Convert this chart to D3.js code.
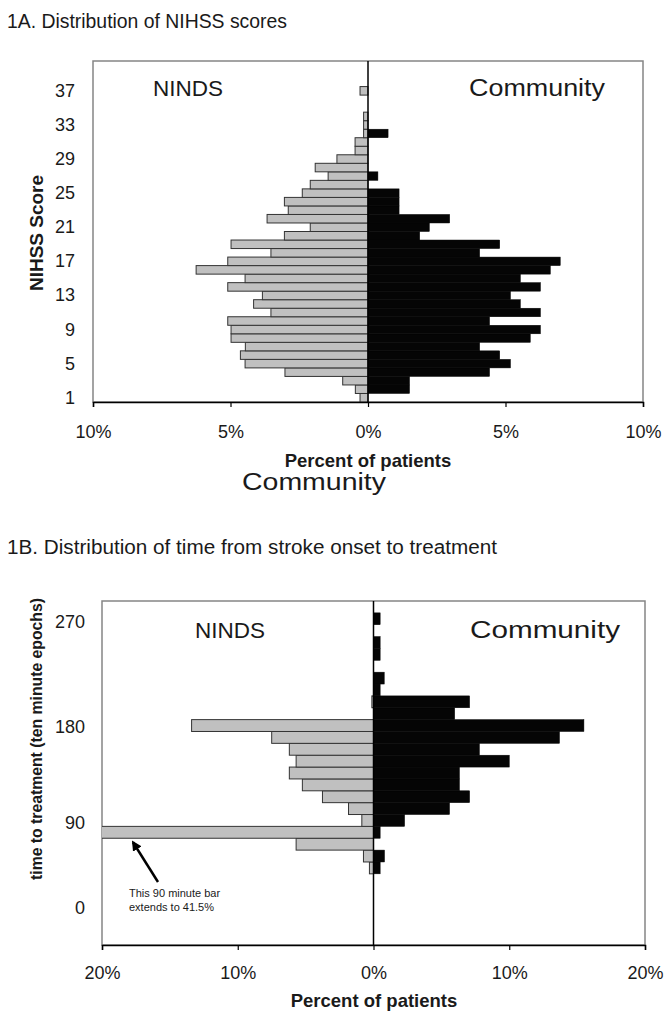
<!DOCTYPE html>
<html>
<head>
<meta charset="utf-8">
<script src="https://cdn.jsdelivr.net/npm/d3@7"></script>
<style>
  body { margin: 0; background: #fff; }
  svg { display: block; font-family: "Liberation Sans", Arial, sans-serif; }
</style>
</head>
<body>
<svg id="chart" width="669" height="1015"></svg>
<script>
// ---------- Data: 1A NIHSS ----------
const nihssScores = [1,2,3,4,5,6,7,8,9,10,11,12,13,14,15,16,17,18,19,20,21,22,23,24,25,26,27,28,29,30,31,32,33,34,35,36,37,38,39,40];
const nihssNINDS = [0.29,0.46,0.92,3.02,4.47,4.64,4.46,4.98,4.98,5.1,3.53,4.16,3.84,5.1,4.47,6.25,5.1,3.53,4.98,3.04,2.1,3.67,2.9,3.04,2.39,2.1,1.45,1.92,1.13,0.47,0.47,0.16,0.16,0.16,0,0,0.29,0,0,0];
const nihssCommunity = [0,1.51,1.51,4.42,5.18,4.79,4.06,5.9,6.27,4.42,6.27,5.54,5.18,6.27,5.54,6.63,6.99,4.06,4.79,1.88,2.23,2.97,1.13,1.13,1.13,0,0.36,0,0,0,0,0.73,0,0,0,0,0,0,0,0];
const nihssTickLabels = [1,5,9,13,17,21,25,29,33,37];
const nihssXTicks = [-10,-5,0,5,10];

// ---------- Data: 1B time to treatment (ten minute epochs) ----------
const timeMinutes = [0,10,20,30,40,50,60,70,80,90,100,110,120,130,140,150,160,170,180,190,200,210,220,230,240,250,260,270,280];
const timeNINDS = [0,0,0,0,0,0,0.3,0.74,5.7,41.5,0.86,1.84,3.76,5.24,6.2,5.7,6.2,7.5,13.4,0,0.12,0,0,0,0,0,0,0,0];
const timeCommunity = [0,0,0,0,0,0,0.49,0.81,0,0.49,2.29,5.6,7.08,6.33,6.33,10.0,7.8,13.7,15.5,5.98,7.08,0.49,0.79,0,0.49,0.49,0,0.49,0];
const timeTickLabels = [0,90,180,270];
const timeXTicks = [-20,-10,0,10,20];

const svg = d3.select("#chart");
const GRAY = "#c0c0c0";
const INK = "#1a1a1a";

function panel(cfg) {
  const g = svg.append("g");
  const x = d3.scaleLinear().domain([-cfg.xmax, cfg.xmax]).range([cfg.left, cfg.right]);
  const y = d3.scaleBand().domain(cfg.cats).range([cfg.bottom, cfg.top]).paddingInner(0).paddingOuter(0);

  const clipId = "clip" + cfg.id;
  svg.append("clipPath").attr("id", clipId).append("rect")
    .attr("x", cfg.left).attr("y", cfg.top)
    .attr("width", cfg.right - cfg.left).attr("height", cfg.bottom - cfg.top);

  g.append("rect").attr("x", cfg.left).attr("y", cfg.top)
    .attr("width", cfg.right - cfg.left).attr("height", cfg.bottom - cfg.top)
    .attr("fill", "none").attr("stroke", "#858585").attr("stroke-width", 1.5);

  const bars = g.append("g").attr("clip-path", `url(#${clipId})`);
  bars.selectAll("rect.l").data(cfg.cats.map((c, i) => ({c, v: cfg.left_vals[i]})).filter(d => d.v > 0))
    .join("rect")
    .attr("x", d => x(-d.v)).attr("y", d => y(d.c))
    .attr("width", d => x(0) - x(-d.v)).attr("height", y.bandwidth())
    .attr("fill", GRAY).attr("stroke", "#333").attr("stroke-width", 1);
  bars.selectAll("rect.r").data(cfg.cats.map((c, i) => ({c, v: cfg.right_vals[i]})).filter(d => d.v > 0))
    .join("rect")
    .attr("x", x(0)).attr("y", d => y(d.c))
    .attr("width", d => x(d.v) - x(0)).attr("height", y.bandwidth())
    .attr("fill", "#050505").attr("stroke", "#050505").attr("stroke-width", 0.5);

  g.append("line").attr("x1", x(0)).attr("x2", x(0)).attr("y1", cfg.top).attr("y2", cfg.bottom)
    .attr("stroke", "#000").attr("stroke-width", 1.5);

  const xAxis = d3.axisBottom(x).tickValues(cfg.xticks).tickSize(5)
    .tickFormat(d => Math.abs(d) + "%");
  const ax = g.append("g").attr("transform", `translate(0,${cfg.bottom})`).call(xAxis);
  ax.select(".domain").attr("stroke", "#000").attr("stroke-width", 1.5);
  ax.selectAll(".tick line").attr("stroke", "#000").attr("stroke-width", 1.2);
  ax.selectAll(".tick text").attr("font-size", cfg.tickFont).attr("y", cfg.xlabelY)
    .attr("dy", 0).attr("dominant-baseline", "central")
    .attr("font-family", "Liberation Sans, Arial, sans-serif").attr("fill", INK);

  const yl = g.append("g");
  yl.selectAll("text").data(cfg.ylabels).join("text")
    .attr("x", cfg.ylabelX)
    .attr("y", d => y(d) + y.bandwidth() / 2 + (cfg.nudge[d] || 0))
    .attr("text-anchor", "end").attr("dominant-baseline", "central")
    .attr("font-size", cfg.tickFont).attr("fill", INK).text(d => d);

  return {x, y, g};
}

function label(x, y, txt, size, width, opts = {}) {
  const t = svg.append("text").attr("x", x).attr("y", y).attr("font-size", size).attr("fill", INK).text(txt);
  if (width) t.attr("textLength", width).attr("lengthAdjust", "spacingAndGlyphs");
  if (opts.bold) t.attr("font-weight", "bold");
  if (opts.anchor) t.attr("text-anchor", opts.anchor);
  if (opts.transform) t.attr("transform", opts.transform);
  return t;
}

// ----- 1A -----
label(7, 28, "1A. Distribution of NIHSS scores", 19.5, 280);

panel({
  id: "A", xmax: 10, left: 93, right: 643, top: 61, bottom: 402,
  cats: nihssScores, left_vals: nihssNINDS, right_vals: nihssCommunity,
  xticks: nihssXTicks, ylabels: nihssTickLabels, tickFont: 18, ylabelX: 75,
  nudge: {}, xlabelY: 30
});
label(153, 96, "NINDS", 22.5, 70);
label(469, 96, "Community", 23, 136);
label(0, 0, "NIHSS Score", 19, null, {bold: true, anchor: "middle", transform: "translate(43,233) rotate(-90)"});
label(368, 467, "Percent of patients", 18.5, null, {bold: true, anchor: "middle"});
label(242, 490, "Community", 23, 144);

// ----- 1B -----
label(7, 554, "1B. Distribution of time from stroke onset to treatment", 20, 490);

const pB = panel({
  id: "B", xmax: 20, left: 102, right: 645, top: 601, bottom: 945,
  cats: timeMinutes, left_vals: timeNINDS, right_vals: timeCommunity,
  xticks: timeXTicks, ylabels: timeTickLabels, tickFont: 18, ylabelX: 85,
  nudge: {0: -31, 90: -9, 180: 1, 270: 3}, xlabelY: 28
});
label(195, 638, "NINDS", 22.5, 70);
label(470, 638, "Community", 23, 150);
label(0, 0, "time to treatment (ten minute epochs)", 16, 282, {bold: true, anchor: "middle", transform: "translate(42,739) rotate(-90)"});
label(374, 1007, "Percent of patients", 18.5, null, {bold: true, anchor: "middle"});

// annotation arrow
const defs = svg.append("defs");
defs.append("marker").attr("id", "ah").attr("viewBox", "0 0 10 10").attr("refX", 8).attr("refY", 5)
  .attr("markerWidth", 4).attr("markerHeight", 4).attr("orient", "auto")
  .append("path").attr("d", "M0,0 L10,5 L0,10 z").attr("fill", "#000");
const yb90 = pB.y(90) + pB.y.bandwidth();
svg.append("line").attr("x1", 158).attr("y1", 882).attr("x2", 133).attr("y2", yb90 + 4)
  .attr("stroke", "#000").attr("stroke-width", 2.5).attr("marker-end", "url(#ah)");
label(129, 897, "This 90 minute bar", 11);
label(129, 911, "extends to 41.5%", 11);
</script>
</body>
</html>
